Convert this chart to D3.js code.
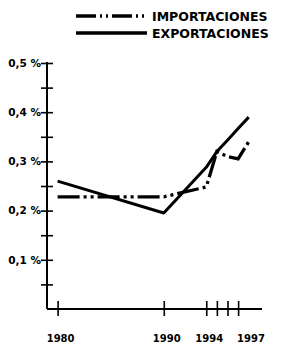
<!DOCTYPE html>
<html>
<head>
<meta charset="utf-8">
<script src="https://cdn.jsdelivr.net/npm/d3@7"></script>
<style>
  body { margin: 0; background: #fff; }
  text { font-family: "DejaVu Sans", sans-serif; font-weight: bold; fill: #000; }
</style>
</head>
<body>
<script>
// data (values in %)
var years = [1980, 1990, 1994, 1995, 1996, 1997, 1998];
var importaciones = [0.228, 0.228, 0.248, 0.32, 0.31, 0.305, 0.34];
var exportaciones = [0.26, 0.195, 0.288, 0.32, 0.343, 0.367, 0.39];
var xTicks = [1980, 1990, 1994, 1995, 1996, 1997];
var xLabels = {1980: "1980", 1990: "1990", 1994: "1994", 1997: "1997"};
var yTicks = [0.05, 0.1, 0.15, 0.2, 0.25, 0.3, 0.35, 0.4, 0.45, 0.5];
var seriesNames = ["IMPORTACIONES", "EXPORTACIONES"];

var svg = d3.select("body").append("svg"),
    margin = {top: 63, right: 19, bottom: 37, left: 47},
    width = 281 - margin.left - margin.right,
    height = 346 - margin.top - margin.bottom,
    g = svg.append("g").attr("transform", "translate(" + margin.left + "," + margin.top + ")");

svg.attr("width", width + margin.left + margin.right)
    .attr("height", height + margin.top + margin.bottom);

var x = d3.scaleLinear().domain([1979, 1999.25]).range([0, width]),
    y = d3.scaleLinear().domain([0, 0.5]).range([height, 0]);

var dashImp = "22,4,3,4,3,4";

var line = d3.line()
    .x(function(d) { return x(d.year); })
    .y(function(d) { return y(d.value); });

function pairs(vals) {
  return years.map(function(yr, i) { return {year: yr, value: vals[i]}; });
}

// x axis
var xAxis = g.append("g")
    .attr("transform", "translate(0," + height + ")")
    .call(d3.axisBottom(x)
      .tickValues(xTicks)
      .tickSizeInner(7)
      .tickSizeOuter(0)
      .tickFormat(function(d) { return xLabels[d] || ""; }));
xAxis.select(".domain").attr("stroke-width", 2).attr("d", "M0,0H" + width);
xAxis.selectAll(".tick line").attr("y1", -8).attr("stroke-width", 1.6);
xAxis.selectAll(".tick text")
    .attr("y", 32.7).attr("dy", 0)
    .attr("font-size", "10px")
    .attr("dx", function(d) { return d === 1997 ? -1.5 : 2.5; })
    .attr("text-anchor", function(d) { return d === 1997 ? "start" : "middle"; });

// y axis
var yAxis = g.append("g")
    .call(d3.axisLeft(y)
      .tickValues(yTicks)
      .tickSizeInner(6)
      .tickSizeOuter(0)
      .tickPadding(0)
      .tickFormat(function(d) {
        return Math.round(d * 100) % 10 === 0 ? d.toFixed(1).replace(".", ",") + " %" : "";
      }));
yAxis.select(".domain").attr("stroke-width", 2).attr("d", "M0,-1V" + height);
yAxis.selectAll(".tick line").attr("x1", 6).attr("stroke-width", 1.6);
yAxis.selectAll(".tick text").attr("font-size", "10.5px");

// series
g.append("path")
    .datum(pairs(exportaciones))
    .attr("fill", "none")
    .attr("stroke", "#000")
    .attr("stroke-width", 3)
    .attr("stroke-linejoin", "round")
    .attr("d", line);

g.append("path")
    .datum(pairs(importaciones))
    .attr("fill", "none")
    .attr("stroke", "#000")
    .attr("stroke-width", 3.3)
    .attr("stroke-dasharray", dashImp)
    .attr("d", line);

// legend
var legend = svg.append("g");
seriesNames.forEach(function(name, i) {
  var ly = 16 + i * 17;
  legend.append("line")
      .attr("x1", 76).attr("x2", 147)
      .attr("y1", ly).attr("y2", ly)
      .attr("stroke", "#000")
      .attr("stroke-width", 3.3)
      .attr("stroke-dasharray", i === 0 ? "20,4,2,4,2,4" : null);
  legend.append("text")
      .attr("x", 152)
      .attr("y", ly + 4.8)
      .attr("font-size", "12.5px")
      .text(name);
});
</script>
</body>
</html>
